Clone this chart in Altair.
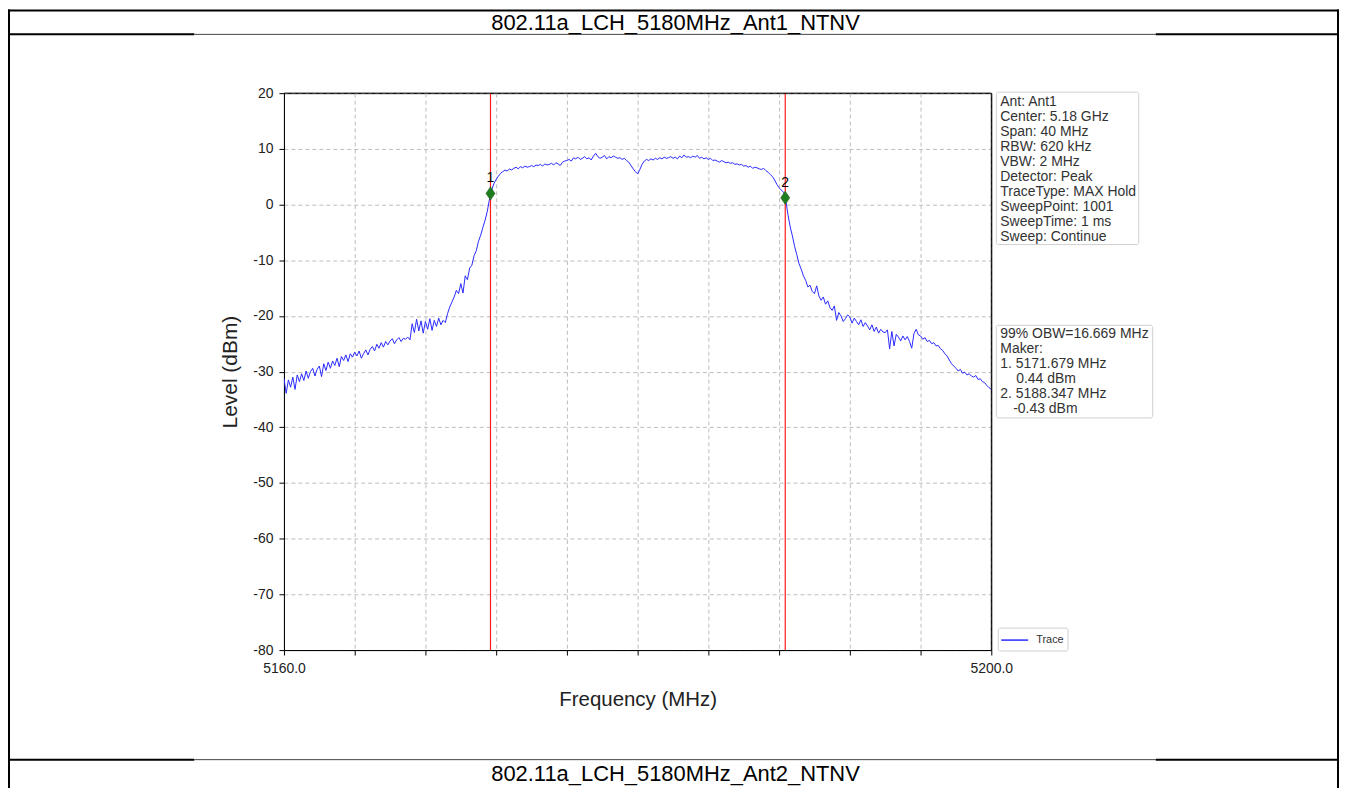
import altair as alt
import pandas as pd

FONT = "Liberation Sans, Arial, sans-serif"

title_top = "802.11a_LCH_5180MHz_Ant1_NTNV"
title_bottom = "802.11a_LCH_5180MHz_Ant2_NTNV"

start_mhz = 5160.0
step_mhz = 0.125
level_dbm = [
    -31.2, -33.9, -31.5, -32.8, -31.0, -33.2, -30.6, -31.8,   # 5160
    -30.4, -31.6, -29.9, -31.2, -30.0, -29.4, -30.8, -29.6,   # 5161
    -29.0, -30.9, -28.6, -29.8, -28.3, -29.4, -28.1, -28.9,   # 5162
    -27.6, -29.1, -27.3, -28.0, -27.0, -28.2, -26.8, -27.4,   # 5163
    -26.5, -27.2, -26.3, -27.6, -26.8, -26.1, -27.0, -26.0,   # 5164
    -25.5, -26.3, -25.1, -25.8, -24.8, -25.6, -24.6, -25.2,   # 5165
    -24.5, -24.1, -25.0, -24.3, -23.9, -24.6, -24.0, -24.2,   # 5166
    -23.8, -24.3, -21.4, -23.0, -20.6, -22.7, -20.9, -23.1,   # 5167
    -21.0, -22.4, -20.5, -22.6, -20.8, -21.9, -20.4, -21.6,   # 5168
    -20.8, -21.2, -19.6, -18.4, -17.5, -16.6, -15.4, -16.0,   # 5169
    -14.2, -15.9, -12.8, -13.5, -11.4, -10.9, -9.2, -8.3,     # 5170
    -6.6, -5.5, -4.1, -2.8, -1.2, 1.0, 2.6, 3.8,              # 5171
    4.5, 5.1, 5.6, 5.9, 6.2, 6.0, 6.4, 6.2,                   # 5172
    6.5, 6.7, 6.4, 6.8, 6.6, 6.9, 6.7, 6.8,                   # 5173
    7.0, 6.8, 7.1, 7.0, 7.2, 6.9, 7.3, 7.1,                   # 5174
    7.2, 7.4, 7.1, 7.5, 7.3, 7.0, 7.6, 7.8,                   # 5175
    7.9, 8.1, 7.8, 8.4, 8.2, 8.5, 8.1, 8.3,                   # 5176
    8.6, 8.2, 8.4, 8.0, 8.7, 9.2, 8.6, 8.3,                   # 5177
    8.5, 8.8, 8.2, 8.6, 8.4, 8.7, 8.5, 8.3,                   # 5178
    8.4, 8.1, 8.3, 7.9, 7.6, 7.0, 6.4, 5.9,                   # 5179
    5.5, 6.3, 7.2, 7.8, 8.1, 7.9, 8.2, 8.0,                   # 5180
    8.3, 8.1, 8.4, 8.2, 8.5, 8.3, 8.4, 8.6,                   # 5181
    8.3, 8.5, 8.2, 8.7, 8.4, 8.9, 8.5, 8.6,                   # 5182
    8.4, 8.7, 8.5, 8.8, 8.3, 8.5, 8.2, 8.4,                   # 5183
    8.1, 8.3, 7.9, 8.0, 7.8, 7.6, 7.9, 7.7,                   # 5184
    7.5, 7.6, 7.4, 7.5, 7.2, 7.3, 7.1, 7.2,                   # 5185
    6.9, 7.0, 6.7, 6.9, 6.5, 6.7, 6.6, 6.4,                   # 5186
    6.3, 6.5, 6.1, 5.8, 5.4, 5.0, 4.4, 3.6,                   # 5187
    3.0, 2.6, 2.2, 0.8, -1.8, -4.0, -5.6, -7.5,               # 5188
    -9.0, -10.6, -11.6, -12.8, -13.6, -14.8, -14.5, -15.6,    # 5189
    -16.0, -14.6, -16.4, -17.2, -16.6, -17.9, -17.3, -18.5,   # 5190
    -19.0, -18.2, -20.8, -19.4, -20.0, -21.0, -20.5, -19.8,   # 5191
    -20.2, -21.3, -20.4, -21.0, -21.6, -20.7, -21.9, -21.2,   # 5192
    -21.8, -22.5, -21.6, -22.8, -22.0, -23.1, -22.4, -22.9,   # 5193
    -23.0, -22.5, -25.9, -22.8, -25.4, -23.3, -23.8, -24.5,   # 5194
    -23.6, -24.3, -23.7, -24.6, -25.8, -23.2, -22.4, -23.4,   # 5195
    -23.6, -24.2, -23.9, -24.6, -24.4, -25.0, -24.8, -25.4,   # 5196
    -25.3, -25.9, -26.2, -26.8, -27.2, -27.9, -28.6, -29.0,   # 5197
    -29.4, -29.9, -29.6, -30.3, -30.1, -30.6, -30.4, -30.8,   # 5198
    -31.0, -30.7, -31.4, -31.3, -31.8, -32.0, -32.5, -32.9,   # 5199
    -33.2,                                                    # 5200
]
freq_mhz = [start_mhz + step_mhz * i for i in range(len(level_dbm))]

marker_freq = [5171.679, 5188.347]
marker_level = [2.0, 1.2]
marker_label = ["1", "2"]

info_lines = [
    "Ant: Ant1",
    "Center: 5.18 GHz",
    "Span: 40 MHz",
    "RBW: 620 kHz",
    "VBW: 2 MHz",
    "Detector: Peak",
    "TraceType: MAX Hold",
    "SweepPoint: 1001",
    "SweepTime: 1 ms",
    "Sweep: Continue",
]
obw_lines = [
    "99% OBW=16.669 MHz",
    "Maker:",
    "1. 5171.679 MHz",
    "0.44 dBm",
    "2. 5188.347 MHz",
    "-0.43 dBm",
]
obw_indent = [0, 0, 0, 16, 0, 13]
legend_label = "Trace"

x_ticks = [5160, 5164, 5168, 5172, 5176, 5180, 5184, 5188, 5192, 5196, 5200]
y_ticks = [-80, -70, -60, -50, -40, -30, -20, -10, 0, 10, 20]

# ---- layout (page pixels) ----
OX, OY = 285, 92
W, H = 710, 559
TOTAL_W, TOTAL_H = 1337, 780
PAD_L, PAD_T = OX - 8, OY - 8
LH = 15.1


def X(p):
    return p - OX


def Y(p):
    return p - OY


df = pd.DataFrame({"freq": freq_mhz, "level": level_dbm})
mdf = pd.DataFrame({"freq": marker_freq, "level": marker_level, "label": marker_label})
one = pd.DataFrame({"k": [0]})

x_enc = alt.X(
    "freq:Q",
    scale=alt.Scale(domain=[5160, 5200], nice=False, zero=False),
    axis=alt.Axis(
        values=x_ticks,
        labelExpr="datum.value == 5160 || datum.value == 5200 ? format(datum.value, '.1f') : ''",
        title="Frequency (MHz)",
        titleFontSize=20.5,
        labelFontSize=14,
        tickSize=5,
        labelPadding=7,
        titlePadding=14,
        labelOverlap=False,
        labelFlush=False,
    ),
)
y_enc = alt.Y(
    "level:Q",
    scale=alt.Scale(domain=[-80, 20], nice=False, zero=False),
    axis=alt.Axis(
        values=y_ticks,
        labelExpr="'' + datum.value",
        title="Level (dBm)",
        titleFontSize=21,
        labelFontSize=14,
        tickSize=5,
        labelPadding=6,
        titlePadding=12,
    ),
)

trace = alt.Chart(df).mark_line(color="#2a2aff", strokeWidth=1, clip=True).encode(x=x_enc, y=y_enc)

mrules = alt.Chart(mdf).mark_rule(color="#ff1a1a", strokeWidth=1.2).encode(x="freq:Q")
mpoints = alt.Chart(mdf).mark_point(
    shape="M0,-1L0.68,0L0,1L-0.68,0Z", filled=True, size=180,
    fill="#1e7d1e", stroke="#145214", strokeWidth=0.5, opacity=1,
).encode(x="freq:Q", y="level:Q")
mlabels = alt.Chart(mdf).mark_text(
    dy=-15, fontSize=14, font=FONT, color="black", baseline="middle"
).encode(x="freq:Q", y="level:Q", text="label:N")


def hline(y, x1, x2, w, color="black"):
    return alt.Chart(one).mark_rule(color=color, strokeWidth=w).encode(
        x=alt.value(X(x1)), x2=alt.value(X(x2)), y=alt.value(Y(y)))


def vline(x, y1, y2, w, color="black"):
    return alt.Chart(one).mark_rule(color=color, strokeWidth=w).encode(
        x=alt.value(X(x)), y=alt.value(Y(y1)), y2=alt.value(Y(y2)))


def box(x1, y1, x2, y2):
    return alt.Chart(one).mark_rect(
        fill="white", stroke="#cfcfcf", strokeWidth=1, cornerRadius=2
    ).encode(x=alt.value(X(x1)), x2=alt.value(X(x2)), y=alt.value(Y(y1)), y2=alt.value(Y(y2)))


def text_at(x, y, txt, size, color="#333333", lh=LH):
    return alt.Chart(one).mark_text(
        font=FONT, fontSize=size, color=color, align="left", baseline="alphabetic", lineHeight=lh
    ).encode(x=alt.value(X(x)), y=alt.value(Y(y)), text=alt.value(txt))


# solid plot frame drawn over the grid (top and right edges)
frame = [
    alt.Chart(one).mark_rule(color="black", strokeWidth=1).encode(
        x=alt.value(0), x2=alt.value(W), y=alt.value(0)),
    alt.Chart(one).mark_rule(color="black", strokeWidth=1).encode(
        x=alt.value(W), y=alt.value(0), y2=alt.value(H)),
]

deco = [
    # table frame
    hline(9, 8, 1344, 2),
    vline(9, 8, 790, 2),
    vline(1343, 8, 790, 2),
    hline(33, 8, 195, 2), hline(33, 195, 1160, 1, "#444"), hline(33, 1160, 1344, 2),
    hline(761, 8, 195, 2), hline(761, 195, 1160, 1, "#444"), hline(761, 1160, 1344, 2),
    alt.Chart(one).mark_text(font=FONT, fontSize=22, color="black", align="center", baseline="middle").encode(
        x=alt.value(X(678)), y=alt.value(Y(22)), text=alt.value(title_top)),
    alt.Chart(one).mark_text(font=FONT, fontSize=22, color="black", align="center", baseline="middle").encode(
        x=alt.value(X(678)), y=alt.value(Y(775)), text=alt.value(title_bottom)),
    # info boxes
    box(1000, 91, 1143, 244),
    text_at(1004, 105, info_lines, 14),
    box(1000, 325, 1157, 418),
    # legend
    box(1002, 629, 1072, 652),
    alt.Chart(one).mark_rule(color="#2a2aff", strokeWidth=1.5).encode(
        x=alt.value(X(1005)), x2=alt.value(X(1032)), y=alt.value(Y(641))),
    alt.Chart(one).mark_text(font=FONT, fontSize=11, color="#333333", align="left", baseline="middle").encode(
        x=alt.value(X(1040)), y=alt.value(Y(641)), text=alt.value(legend_label)),
]
for i, (line, ind) in enumerate(zip(obw_lines, obw_indent)):
    deco.append(text_at(1004 + ind, 338 + i * LH, line, 14))

chart = alt.layer(trace, mrules, mpoints, mlabels, *frame, *deco).properties(
    width=W,
    height=H,
    autosize=alt.AutoSizeParams(type="none"),
    padding={"left": PAD_L, "top": PAD_T, "right": TOTAL_W - PAD_L - W, "bottom": TOTAL_H - PAD_T - H},
    background="white",
).configure_view(
    stroke="black", strokeWidth=1
).configure_axis(
    labelFont=FONT, titleFont=FONT, labelColor="#222222", titleColor="#222222",
    titleFontWeight="normal", domainColor="black", tickColor="black", domainWidth=1,
    grid=True, gridColor="#bdbdbd", gridDash=[4, 3], gridWidth=1,
)

chart.save("out.html", embed_options={"renderer": "svg", "actions": False})
